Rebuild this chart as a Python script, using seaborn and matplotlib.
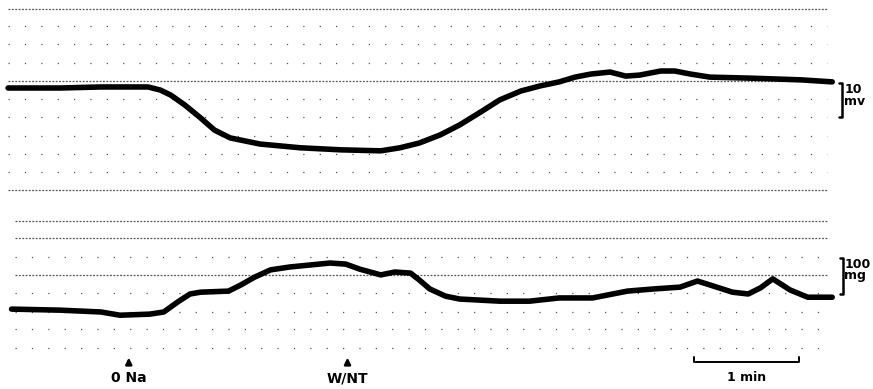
import numpy as np
import pandas as pd
import seaborn as sns
import matplotlib
matplotlib.use("Agg")
from matplotlib import pyplot as plt

# membrane potential trace (top), time in s, potential in mV from resting level
t_mv = [0, 30, 53, 80, 87, 93, 101, 110, 118, 127, 144, 167, 190, 213, 224, 235,
        247, 258, 270, 281, 293, 304, 315, 324, 333, 344, 353, 361, 373, 381,
        390, 401, 424, 453, 471]
mv = [0, 0, 0.3, 0.3, -0.6, -2.1, -5.0, -8.8, -12.4, -14.7, -16.5, -17.6, -18.2,
      -18.5, -17.6, -16.2, -13.8, -10.9, -7.1, -3.5, -0.9, 0.6, 1.8, 3.2, 4.1,
      4.7, 3.5, 3.8, 5.0, 5.0, 4.1, 3.2, 2.9, 2.4, 1.8]

# tension trace (bottom), mg above baseline
t_mg = [2, 30, 53, 64, 81, 89, 97, 104, 110, 126, 133, 141, 150, 161, 184, 193,
        201, 213, 221, 230, 235, 241, 250, 258, 281, 298, 315, 334, 354, 369,
        384, 394, 405, 414, 423, 430, 437, 447, 457, 471]
mg = [11, 8, 3, -6, -3, 3, 31, 53, 58, 61, 78, 100, 120, 128, 139, 136, 122, 106,
      114, 111, 92, 67, 47, 39, 33, 33, 42, 42, 61, 67, 72, 89, 72, 58, 53, 70,
      95, 64, 44, 44]

# events marked under the record
events = ["0 Na", "W/NT"]
event_t = [69, 194]

# chart paper lines
grid_mv = [23.2, 18.2, 12.9, 7.4, 2.1, -3.2, -8.5, -14.1, -19.4, -24.7, -30.0]
dense_mv = [23.2, 2.1, -30.0]
grid_mg = [256, 208, 156, 106, 56, 3, -44, -97]
dense_mg = [256, 208, 106]

sns.set_style("white")
plt.rcParams['font.family'] = ['DejaVu Sans']

fig = plt.figure(figsize=(8.73, 3.89), dpi=100)
ax1 = fig.add_axes([0, 0.4987, 1, 0.5013])
ax2 = fig.add_axes([0, 0, 1, 0.4987])

xlim = (-4.6, 494.3)
ax1.set_xlim(xlim)
ax1.set_ylim(-31.5, 25.9)
ax2.set_xlim(xlim)
ax2.set_ylim(-211, 328)

# dotted chart grid
for g in grid_mv:
    ls = (0, (1.5, 1.2)) if g in dense_mv else (0, (1, 12.1))
    ax1.plot([0, 468], [g, g], color="#555555", lw=0.9, ls=ls, zorder=1)
for g in grid_mg:
    ls = (0, (1.5, 1.2)) if g in dense_mg else (0, (1, 12.1))
    ax2.plot([4, 468], [g, g], color="#555555", lw=0.9, ls=ls, zorder=1)

df_top = pd.DataFrame({"t": t_mv, "v": mv})
df_bot = pd.DataFrame({"t": t_mg, "v": mg})
sns.lineplot(data=df_top, x="t", y="v", ax=ax1, color="black", lw=4,
             sort=False, estimator=None, solid_capstyle="round",
             solid_joinstyle="round", zorder=3)
sns.lineplot(data=df_bot, x="t", y="v", ax=ax2, color="black", lw=4,
             sort=False, estimator=None, solid_capstyle="round",
             solid_joinstyle="round", zorder=3)

for ax in (ax1, ax2):
    ax.set_axis_off()

lab = dict(fontsize=9, fontweight="bold", color="black")

# calibration bars
ax1.plot([474.9, 476.6, 476.6, 474.9], [1.5, 1.5, -8.5, -8.5], color="black", lw=1.8)
ax1.text(478, -0.3, "10", va="center", ha="left", **lab)
ax1.text(478, -3.9, "mv", va="center", ha="left", **lab)

ax2.plot([475.3, 477, 477, 475.3], [153, 153, 53, 53], color="black", lw=1.8)
ax2.text(478, 136, "100", va="center", ha="left", **lab)
ax2.text(478, 103, "mg", va="center", ha="left", **lab)

# 1 min bar
ax2.plot([392, 392, 452, 452], [-122, -136, -136, -122], color="black", lw=1.4)
ax2.text(422, -180, "1 min", ha="center", va="center", **lab)

# event arrows
for name, tx in zip(events, event_t):
    ax2.annotate("", xy=(tx, -116), xytext=(tx, -152),
                 arrowprops=dict(arrowstyle="-|>", color="black", lw=1.8,
                                 mutation_scale=9))
    ax2.text(tx, -181, name, ha="center", va="center",
             **{**lab, "fontsize": 10})

plt.savefig("out.png", dpi=100)
